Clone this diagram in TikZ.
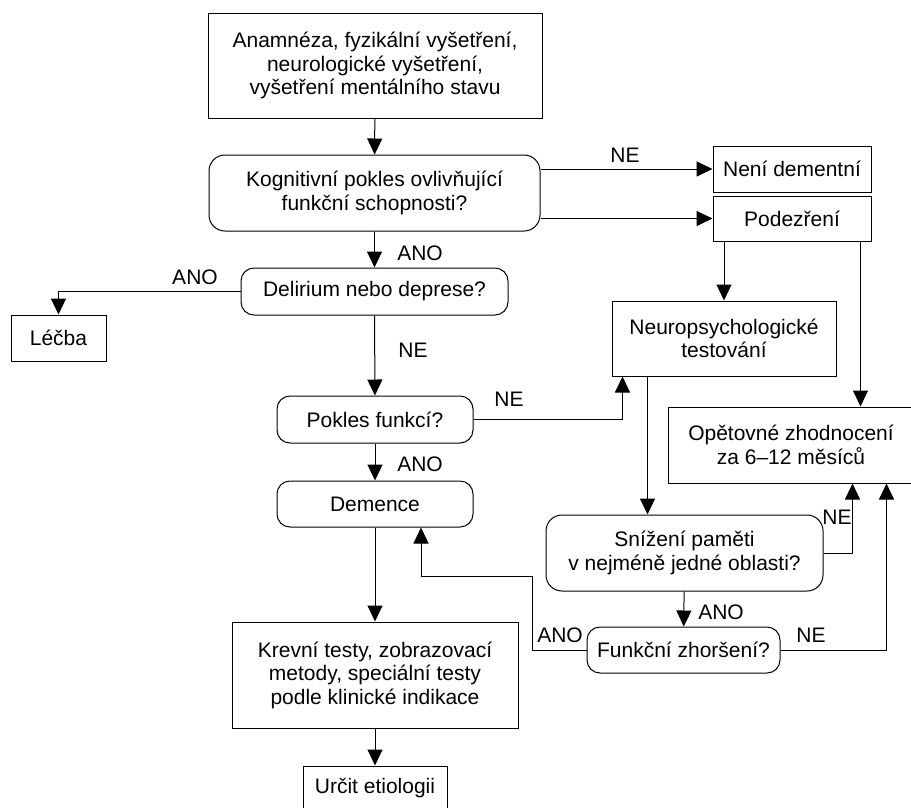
\documentclass[tikz,border=0pt]{standalone}
\usepackage{fontspec}
\setmainfont{Liberation Sans}
\usetikzlibrary{arrows.meta, positioning}
\tikzset{
  box/.style={rectangle, draw, line width=1pt, align=center,
    inner sep=0pt, font=\fontsize{21}{23.5}\selectfont},
  query/.style={box, rounded corners=13pt},
  arrow/.style={-{Triangle[length=16pt, width=15pt]}, line width=1pt},
  line/.style={line width=1pt},
  lbl/.style={font=\fontsize{21}{23.5}\selectfont, inner sep=0pt}
}
\begin{document}
\begin{tikzpicture}[x=1pt, y=-1pt]
  \useasboundingbox (0,0) rectangle (911,807);
  \clip (0,0) rectangle (911,807);

  % Left column
  \node[box, minimum width=334pt, minimum height=105pt] (exam) at (375,65.5)
    {Anamnéza, fyzikální vyšetření,\\neurologické vyšetření,\\vyšetření mentálního stavu};
  \node[query, minimum width=331pt, minimum height=76pt, rounded corners=16pt] (cogn) at (374.5,193)
    {Kognitivní pokles ovlivňující\\funkční schopnosti?};
  \node[query, minimum width=267pt, minimum height=47pt] (delir) at (374.5,291.5)
    {Delirium nebo deprese?};
  \node[box, minimum width=95pt, minimum height=46pt] (treat) at (58.5,338) {Léčba};
  \node[query, minimum width=196pt, minimum height=47pt] (decl) at (375,419.5)
    {Pokles funkcí?};
  \node[query, minimum width=196pt, minimum height=46pt] (dem) at (375,504) {Demence};
  \node[box, minimum width=286pt, minimum height=106pt] (tests) at (375,675)
    {Krevní testy, zobrazovací\\metody, speciální testy\\podle klinické indikace};
  \node[box, minimum width=144pt, minimum height=44pt] (etio) at (375,788) {Určit etiologii};

  % Right column
  \node[box, minimum width=158pt, minimum height=46pt] (nodem) at (792,169) {Není dementní};
  \node[box, minimum width=158pt, minimum height=45pt] (susp) at (792,218.5) {Podezření};
  \node[box, minimum width=224pt, minimum height=75pt] (neuro) at (724,338.5)
    {Neuropsychologické\\testování};
  \node[box, minimum width=246pt, minimum height=76pt] (reval) at (791,445)
    {Opětovné zhodnocení\\za 6--12 měsíců};
  \node[query, minimum width=277pt, minimum height=76pt, rounded corners=16pt] (mem) at (684.5,553)
    {Snížení paměti\\v nejméně jedné oblasti?};
  \node[query, minimum width=193pt, minimum height=46pt] (func) at (683.5,650)
    {Funkční zhoršení?};

  % Helper points
  \coordinate (sr) at ([xshift=-11pt]susp.south east);
  \coordinate (nl) at ([xshift=11pt]neuro.south west);
  \coordinate (nb) at ([xshift=36pt]neuro.south west);
  \coordinate (r1) at ([xshift=185pt]reval.south west);
  \coordinate (r2) at ([xshift=219pt]reval.south west);
  \coordinate (jog) at (532,576);
  \coordinate (dm) at ([xshift=46pt]dem.south);

  % Connections
  \draw[arrow] (exam) -- (cogn);
  \draw[arrow] (cogn.east |- nodem.west) -- (nodem.west);
  \draw[arrow] (cogn.east |- susp.west) -- (susp.west);
  \draw[arrow] (cogn) -- (delir);
  \draw[arrow] (delir.west) -| (treat.north);
  \draw[arrow] (delir) -- (decl);
  \draw[arrow] (decl.east) -| (nl);
  \draw[arrow] (decl) -- (dem);
  \draw[arrow] (dem) -- (tests);
  \draw[arrow] (tests) -- (etio);
  \draw[arrow] (neuro.north |- susp.south) -- (neuro.north);
  \draw[arrow] (sr) -- (sr |- reval.north);
  \draw[arrow] (nb) -- (nb |- mem.north);
  \draw[arrow] (mem.east) -| (r1);
  \draw[arrow] (mem) -- (func);
  \draw[arrow] (func.east) -| (r2);
  \draw[arrow] (func.west) -| (jog) -| (dm);

  % Labels
  \node[lbl] (l1) at (625,155) {NE};
  \node[lbl] (l2) at (420,253) {ANO};
  \node[lbl] (l3) at (195,277) {ANO};
  \node[lbl] (l4) at (413,350) {NE};
  \node[lbl] (l5) at (509,399) {NE};
  \node[lbl] (l6) at (420,464) {ANO};
  \node[lbl] (l7) at (837,517) {NE};
  \node[lbl] (l8) at (721,612) {ANO};
  \node[lbl] (l9) at (560,635) {ANO};
  \node[lbl] (l10) at (811,635) {NE};
\end{tikzpicture}
\end{document}
